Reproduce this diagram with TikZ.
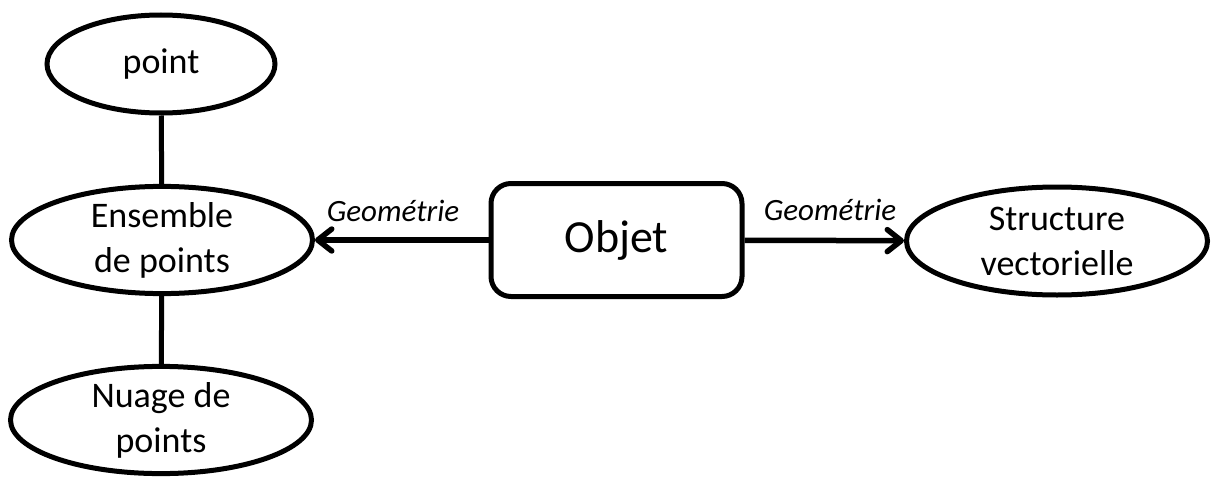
\documentclass[tikz,border=0pt]{standalone}
\usepackage{fontspec}
\setmainfont{Carlito}
\usetikzlibrary{shapes.geometric,arrows.meta}
\tikzset{
  bubble/.style={draw=black,line width=5pt,ellipse,inner sep=0pt,align=center,font=\fontsize{36}{45}\selectfont},
  objbox/.style={draw=black,line width=5pt,rectangle,rounded corners=20pt,inner sep=0pt,font=\fontsize{46}{54}\selectfont},
  link/.style={draw=black,line width=5pt},
  geolink/.style={draw=black,line width=5.5pt,-{Straight Barb[length=14pt,width=22pt,line cap=round,line join=round]}},
  geolabel/.style={font=\fontsize{31}{36}\selectfont\itshape}
}
\begin{document}
\begin{tikzpicture}
[x=1pt,y=-1pt]
\useasboundingbox (0,0) rectangle (1214,476);
% ellipses on the left
\node[bubble,minimum width=228pt,minimum height=98pt] (point) at (161,64) {point};
\node[bubble,minimum width=301pt,minimum height=106pt] (ensemble) at (162,240) {Ensemble\\de points};
\node[bubble,minimum width=301pt,minimum height=102pt] (nuage) at (161,420) {Nuage de\\points};
% object
\node[objbox,minimum width=251pt,minimum height=113pt] (objet) at (616.5,240) {Objet};
% structure
\node[bubble,minimum width=301pt,minimum height=108pt] (structure) at (1057,241) {Structure\\vectorielle};
% links
\draw[link] (point) -- (ensemble);
\draw[link] (ensemble) -- (nuage);
\draw[geolink] (objet) -- (ensemble);
\draw[geolink] (objet) -- (structure);
% labels
\node[geolabel] (geoleft) at (393,211) {Geométrie};
\node[geolabel] (georight) at (830,210) {Geométrie};
\end{tikzpicture}
\end{document}
